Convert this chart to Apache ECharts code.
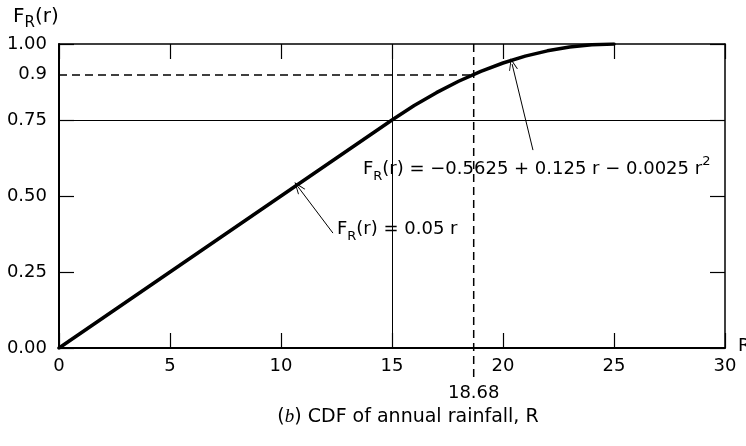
<!DOCTYPE html>
<html><head><meta charset="utf-8">
<script src="https://cdn.jsdelivr.net/npm/echarts@6/dist/echarts.min.js"></script>
<style>html,body{margin:0;padding:0;background:#fff}#c{width:746px;height:446px}</style>
</head><body><div id="c"></div>
<script>
// ---- data ----
const rainfall = [0, 15, 16, 17, 18, 19, 20, 21, 22, 23, 24, 25];
const cdf = [0, 0.75, 0.7975, 0.84, 0.8775, 0.91, 0.9375, 0.96, 0.9775, 0.99, 0.9975, 1.0];
const yTickValues = [0, 0.25, 0.5, 0.75, 0.9, 1.0];
const yTickLabels = ['0.00', '0.25', '0.50', '0.75', '0.9', '1.00'];
const xTicks = [0, 5, 10, 15, 20, 25, 30];
const breakR = 15, breakP = 0.75;
const quantileR = 18.68, quantileP = 0.9;
const quantileLabel = '18.68';

// ---- annotation anchors (data coordinates) ----
const eqLinear = { at: [12.52, 0.391], arrowFrom: [12.34, 0.378], arrowTo: [10.77, 0.53] };
const eqQuad = { at: [13.69, 0.589], arrowFrom: [21.35, 0.651], arrowTo: [20.41, 0.934] };

const FONT = 'DejaVu Sans';
const FS = 18;
function richFor(base, sub) {
  return {
    b: { fontSize: base, fontFamily: FONT, color: '#000', lineHeight: 28, verticalAlign: 'middle' },
    s: { fontSize: sub, fontFamily: FONT, color: '#000', lineHeight: 14, verticalAlign: 'bottom' },
    p: { fontSize: sub, fontFamily: FONT, color: '#000', lineHeight: 20, verticalAlign: 'top' }
  };
}
const richF = richFor(FS, 13);
const richName = richFor(20, 15);
const openArrow = 'path://M0,0 L6,12 L4.8,12 L0,2.6 L-4.8,12 L-6,12 Z';

const chart = echarts.init(document.getElementById('c'), null, { renderer: 'canvas' });

const axisBase = {
  type: 'value',
  axisLine: { show: true, onZero: false, lineStyle: { color: '#000', width: 2 } },
  axisTick: { show: true, inside: true, length: 15, lineStyle: { color: '#000', width: 1.2 } },
  splitLine: { show: false }
};

chart.setOption({
  animation: false,
  backgroundColor: '#fff',
  grid: { left: 59, right: 21, top: 44, bottom: 98, containLabel: false },
  xAxis: [
    Object.assign({}, axisBase, {
      position: 'bottom', min: xTicks[0], max: xTicks[xTicks.length - 1], interval: 5,
      axisLabel: { show: true, margin: 9, fontSize: FS, fontFamily: FONT, color: '#000' }
    }),
    Object.assign({}, axisBase, {
      position: 'top', min: xTicks[0], max: xTicks[xTicks.length - 1], interval: 5,
      axisLine: { show: true, onZero: false, lineStyle: { color: '#000', width: 1.5 } },
      axisLabel: { show: false }
    })
  ],
  yAxis: [
    Object.assign({}, axisBase, {
      position: 'left', min: 0, max: 1, interval: 0.25,
      axisLabel: {
        show: true, margin: 12, fontSize: FS, fontFamily: FONT, color: '#000',
        customValues: yTickValues,
        formatter: function (v) {
          const i = yTickValues.findIndex(t => Math.abs(t - v) < 1e-6);
          return i >= 0 ? yTickLabels[i] : '';
        }
      }
    }),
    Object.assign({}, axisBase, {
      position: 'right', min: 0, max: 1, interval: 0.25,
      axisLine: { show: true, onZero: false, lineStyle: { color: '#000', width: 1.5 } },
      axisLabel: { show: false }
    })
  ],
  series: [
    {
      name: 'CDF', type: 'line', xAxisIndex: 0, yAxisIndex: 0,
      data: rainfall.map((r, i) => [r, cdf[i]]),
      showSymbol: false, symbol: 'none',
      lineStyle: { color: '#000', width: 3.5, cap: 'round', join: 'round' },
      z: 5,
      markLine: {
        silent: true, symbol: ['none', 'none'], animation: false,
        label: { show: false },
        data: [
          { xAxis: breakR, lineStyle: { color: '#000', width: 1, type: 'solid' } },
          { yAxis: breakP, lineStyle: { color: '#000', width: 1, type: 'solid' } },
          [
            { coord: [0, quantileP], lineStyle: { color: '#000', width: 1.5, type: [8, 5] } },
            { coord: [quantileR, quantileP] }
          ]
        ]
      }
    },
    {
      name: 'quantile', type: 'line', xAxisIndex: 0, yAxisIndex: 0,
      clip: false,
      data: [
        { value: [quantileR, 1.0] },
        { value: [quantileR, -0.1], label: { show: true, position: 'bottom', distance: 6, formatter: quantileLabel, fontSize: FS, fontFamily: FONT, color: '#000' } }
      ],
      showSymbol: true, symbol: 'circle', symbolSize: 0,
      itemStyle: { color: 'transparent' },
      lineStyle: { color: '#000', width: 1.5, type: [8, 5] },
      z: 4
    },
    {
      name: 'arrows', type: 'line', xAxisIndex: 0, yAxisIndex: 0,
      data: [],
      markLine: {
        silent: true, symbol: ['none', openArrow], symbolSize: [9, 12], animation: false,
        label: { show: false },
        itemStyle: { color: '#000' },
        lineStyle: { color: '#000', width: 1, type: 'solid' },
        data: [
          [{ coord: eqLinear.arrowFrom }, { coord: eqLinear.arrowTo }],
          [{ coord: eqQuad.arrowFrom }, { coord: eqQuad.arrowTo }]
        ]
      }
    }
  ]
});

function px(pt) { return chart.convertToPixel({ gridIndex: 0 }, pt); }
const p1 = px(eqLinear.at), p2 = px(eqQuad.at);
const origin = px([0, 1]), xEnd = px([30, 0]), bottomMid = px([15, 0]);

chart.setOption({
  graphic: [
    { type: 'text', x: origin[0] - 46, y: origin[1] - 27,
      style: { text: '{b|F}{s|R}{b|(r)}', rich: richName, verticalAlign: 'middle', align: 'left' } },
    { type: 'text', x: xEnd[0] + 13, y: xEnd[1] - 2,
      style: { text: 'R', fontSize: FS, fontFamily: FONT, fill: '#000', verticalAlign: 'middle', align: 'left' } },
    { type: 'text', x: p1[0], y: p1[1],
      style: { text: '{b|F}{s|R}{b|(r) = 0.05 r}', rich: richF, verticalAlign: 'middle', align: 'left' } },
    { type: 'text', x: p2[0], y: p2[1],
      style: { text: '{b|F}{s|R}{b|(r) = \u22120.5625 + 0.125 r \u2212 0.0025 r}{p|2}', rich: richF, verticalAlign: 'middle', align: 'left' } },
    { type: 'text', x: bottomMid[0] + 16, y: bottomMid[1] + 69,
      style: {
        text: '{a|(}{i|b}{a|) CDF of annual rainfall, R}',
        rich: {
          a: { fontSize: 19, fontFamily: FONT, color: '#000' },
          i: { fontSize: 19, fontFamily: 'Liberation Serif', fontStyle: 'italic', color: '#000' }
        },
        verticalAlign: 'middle', align: 'center'
      } }
  ]
});
</script>
</body></html>
